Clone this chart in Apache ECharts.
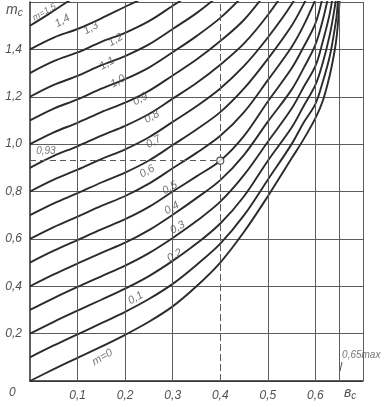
<!DOCTYPE html>
<html>
<head>
<meta charset="utf-8">
<script src="https://cdn.jsdelivr.net/npm/echarts@6/dist/echarts.min.js"></script>
<style>
    html, body { margin: 0; padding: 0; background: #fff; }
    #chart { width: 390px; height: 407px; }
</style>
</head>
<body>
<div id="chart"></div>
<script>
var mValues = [0, 0.1, 0.2, 0.3, 0.4, 0.5, 0.6, 0.7, 0.8, 0.9, 1.0, 1.1, 1.2, 1.3, 1.4, 1.5];

var curveM00 = [[0,0],[0.05,0.05],[0.1,0.098],[0.15,0.145],[0.2,0.195],[0.25,0.25],[0.3,0.315],[0.35,0.40],[0.4,0.50],[0.45,0.63],[0.5,0.78],[0.55,0.94],[0.575,1.02],[0.6,1.11],[0.615,1.18],[0.63,1.29],[0.64,1.39],[0.645,1.46],[0.65,1.58],[0.652,1.66]];
var curveM01 = [[0,0.1],[0.05,0.15],[0.1,0.197],[0.15,0.244],[0.2,0.292],[0.25,0.346],[0.3,0.41],[0.35,0.49],[0.4,0.58],[0.45,0.70],[0.5,0.85],[0.55,1.0],[0.575,1.09],[0.6,1.17],[0.615,1.26],[0.63,1.37],[0.64,1.48],[0.645,1.55],[0.65,1.68]];
var curveM02 = [[0,0.2],[0.05,0.25],[0.1,0.297],[0.15,0.343],[0.2,0.39],[0.25,0.443],[0.3,0.507],[0.35,0.58],[0.4,0.665],[0.45,0.78],[0.5,0.93],[0.55,1.07],[0.575,1.16],[0.6,1.25],[0.615,1.34],[0.63,1.46],[0.64,1.57],[0.645,1.64]];
var curveM03 = [[0,0.3],[0.05,0.35],[0.1,0.397],[0.15,0.442],[0.2,0.487],[0.25,0.54],[0.3,0.604],[0.35,0.675],[0.4,0.757],[0.45,0.87],[0.5,1.01],[0.55,1.15],[0.575,1.24],[0.6,1.33],[0.615,1.43],[0.63,1.55],[0.64,1.67]];
var curveM04 = [[0,0.4],[0.05,0.45],[0.1,0.496],[0.15,0.541],[0.2,0.584],[0.25,0.637],[0.3,0.702],[0.35,0.772],[0.4,0.848],[0.45,0.955],[0.5,1.095],[0.55,1.23],[0.575,1.32],[0.6,1.42],[0.615,1.52],[0.63,1.65]];
var curveM05 = [[0,0.5],[0.05,0.55],[0.1,0.595],[0.15,0.64],[0.2,0.683],[0.25,0.735],[0.3,0.80],[0.35,0.864],[0.4,0.93],[0.45,1.035],[0.5,1.18],[0.55,1.32],[0.575,1.41],[0.6,1.51],[0.615,1.62]];
var curveM06 = [[0,0.6],[0.05,0.65],[0.1,0.694],[0.15,0.739],[0.2,0.781],[0.25,0.833],[0.3,0.898],[0.35,0.963],[0.4,1.035],[0.45,1.135],[0.5,1.27],[0.55,1.41],[0.575,1.50],[0.6,1.61]];
var curveM07 = [[0,0.7],[0.05,0.75],[0.1,0.793],[0.15,0.838],[0.2,0.88],[0.25,0.931],[0.3,0.996],[0.35,1.062],[0.4,1.135],[0.45,1.235],[0.5,1.36],[0.55,1.50],[0.575,1.59],[0.6,1.69]];
var curveM08 = [[0,0.8],[0.05,0.85],[0.1,0.892],[0.15,0.937],[0.2,0.978],[0.25,1.029],[0.3,1.094],[0.35,1.16],[0.4,1.235],[0.45,1.33],[0.5,1.45],[0.55,1.59],[0.575,1.69]];
var curveM09 = [[0,0.9],[0.05,0.95],[0.1,0.991],[0.15,1.036],[0.2,1.077],[0.25,1.127],[0.3,1.192],[0.35,1.258],[0.4,1.335],[0.45,1.425],[0.5,1.545],[0.55,1.69]];
var curveM10 = [[0,1.0],[0.05,1.05],[0.1,1.09],[0.15,1.135],[0.2,1.175],[0.25,1.225],[0.3,1.29],[0.35,1.357],[0.4,1.435],[0.45,1.525],[0.5,1.65]];
var curveM11 = [[0,1.1],[0.05,1.15],[0.1,1.189],[0.15,1.234],[0.2,1.274],[0.25,1.323],[0.3,1.388],[0.35,1.456],[0.4,1.533],[0.45,1.63]];
var curveM12 = [[0,1.2],[0.05,1.25],[0.1,1.288],[0.15,1.333],[0.2,1.372],[0.25,1.421],[0.3,1.486],[0.35,1.553],[0.4,1.632]];
var curveM13 = [[0,1.3],[0.05,1.35],[0.1,1.387],[0.15,1.432],[0.2,1.47],[0.25,1.519],[0.3,1.584],[0.35,1.65]];
var curveM14 = [[0,1.4],[0.05,1.45],[0.1,1.486],[0.15,1.531],[0.2,1.58],[0.25,1.628]];
var curveM15 = [[0,1.5],[0.04,1.55],[0.078,1.6],[0.1,1.625]];

var curves = [curveM00, curveM01, curveM02, curveM03, curveM04, curveM05, curveM06, curveM07,
              curveM08, curveM09, curveM10, curveM11, curveM12, curveM13, curveM14, curveM15];

// curve captions as printed on the sheet: [b_c, m_c, text]
var curveLabels = [
    [0.068, 1.52, '1,4'], [0.128, 1.49, '1,3'], [0.18, 1.44, '1,2'],
    [0.162, 1.34, '1,1'], [0.185, 1.265, '1,0'], [0.232, 1.19, '0,9'], [0.256, 1.115, '0,8'],
    [0.26, 1.01, '0,7'], [0.246, 0.885, '0,6'], [0.294, 0.815, '0,5'], [0.298, 0.73, '0,4'],
    [0.31, 0.648, '0,3'], [0.304, 0.53, '0,2'], [0.222, 0.35, '0,1'], [0.152, 0.10, 'm=0']
];
var cornerLabel = [0.03, 1.557, 'm=1,5'];

// worked example : b_c = 0.4 -> m_c = 0.93
var examplePoint = [0.4, 0.93];

var xGridSolid = [0.1, 0.2, 0.3, 0.5, 0.6, 0.65, 0.7];
var xGridDashed = [0.4];

var inkColor = '#2b2b2b';
var gridColor = '#5c5c5c';
var textColor = '#505050';
var fontFam = 'Liberation Sans';

function comma(v, d) {
    return v.toFixed(d).replace('.', ',');
}

var chart = echarts.init(document.getElementById('chart'));

var series = curves.map(function (pts, i) {
    return {
        name: 'm=' + comma(mValues[i], 1),
        type: 'line',
        data: pts,
        smooth: 0.35,
        symbol: 'none',
        clip: true,
        lineStyle: { color: inkColor, width: 1.9 },
        silent: true,
        z: 3
    };
});

// grid lines drawn by hand so the 0.4 one can be dashed
var gridLines = [];
xGridSolid.forEach(function (x) {
    gridLines.push({ xAxis: x, lineStyle: { type: 'solid', color: gridColor, width: 1 } });
});
xGridDashed.forEach(function (x) {
    gridLines.push({ xAxis: x, lineStyle: { type: [7, 3], color: gridColor, width: 1 } });
});

series.push({
    type: 'line',
    data: [],
    silent: true,
    markLine: {
        symbol: 'none',
        label: { show: false },
        animation: false,
        data: gridLines.concat([
            [{ coord: [0, examplePoint[1]], lineStyle: { type: [6, 4], color: gridColor, width: 1 } },
             { coord: [examplePoint[0], examplePoint[1]] }]
        ])
    },
    z: 1
});

series.push({
    type: 'scatter',
    data: [examplePoint],
    symbol: 'circle',
    symbolSize: 7,
    itemStyle: { color: '#fff', borderColor: inkColor, borderWidth: 1.2 },
    silent: true,
    z: 5
});

function captionSeries(list, size) {
    return {
        type: 'scatter',
        symbolSize: 0,
        silent: true,
        data: list.map(function (l) { return { value: [l[0], l[1]], name: l[2] }; }),
        label: {
            show: true,
            position: 'inside',
            formatter: function (p) { return p.name; },
            rotate: 30,
            color: textColor,
            fontSize: size,
            fontStyle: 'italic',
            fontFamily: fontFam
        },
        z: 6
    };
}
series.push(captionSeries(curveLabels, 11));
series.push(captionSeries([cornerLabel], 9));

series.push({
    type: 'scatter',
    symbolSize: 0,
    silent: true,
    data: [{ value: [0.013, 0.97], name: '0,93' }, { value: [0.656, 0.11], name: '0,65max' }],
    label: {
        show: true,
        position: 'right',
        distance: 0,
        formatter: function (p) { return p.name; },
        color: textColor,
        fontSize: 10,
        fontStyle: 'italic',
        fontFamily: fontFam
    },
    z: 6
});

option = {
    animation: false,
    backgroundColor: '#fff',
    grid: { left: 30, right: 27, top: 2, bottom: 26 },
    xAxis: {
        type: 'value',
        min: 0,
        max: 0.7,
        interval: 0.1,
        axisLine: { lineStyle: { color: inkColor, width: 1.5 } },
        axisTick: { show: false },
        splitLine: { show: false },
        axisLabel: {
            formatter: function (v) { return (v === 0 || v > 0.65) ? '' : comma(v, 1); },
            color: textColor,
            fontSize: 12,
            fontStyle: 'italic',
            fontFamily: fontFam,
            margin: 9
        }
    },
    yAxis: {
        type: 'value',
        min: 0,
        max: 1.6,
        interval: 0.2,
        axisLine: { lineStyle: { color: inkColor, width: 1.5 } },
        axisTick: { show: false },
        splitLine: { show: true, lineStyle: { color: gridColor, width: 1 } },
        axisLabel: {
            formatter: function (v) { return (v === 0 || v > 1.5) ? '' : comma(v, 1); },
            color: textColor,
            fontSize: 12,
            fontStyle: 'italic',
            fontFamily: fontFam,
            margin: 8
        }
    },
    graphic: [
        { type: 'text', left: 6, top: 3, style: { text: '{m|m}{c|c}',
            rich: { m: { fontSize: 14, fontStyle: 'italic', fontFamily: fontFam, fill: textColor },
                    c: { fontSize: 10, fontStyle: 'italic', fontFamily: fontFam, fill: textColor, padding: [7, 0, 0, 0] } } } },
        { type: 'text', left: 344, top: 386, style: { text: '{m|в}{c|c}',
            rich: { m: { fontSize: 14, fontStyle: 'italic', fontFamily: fontFam, fill: textColor },
                    c: { fontSize: 10, fontStyle: 'italic', fontFamily: fontFam, fill: textColor, padding: [7, 0, 0, 0] } } } },
        { type: 'text', left: 9, top: 387, style: { text: '0', fontSize: 12, fontStyle: 'italic', fontFamily: fontFam, fill: textColor } },
        { type: 'line', shape: { x1: 342, y1: 362, x2: 340, y2: 371 }, style: { stroke: textColor, lineWidth: 1 } }
    ],
    series: series
};
chart.setOption(option);
</script>
</body>
</html>
